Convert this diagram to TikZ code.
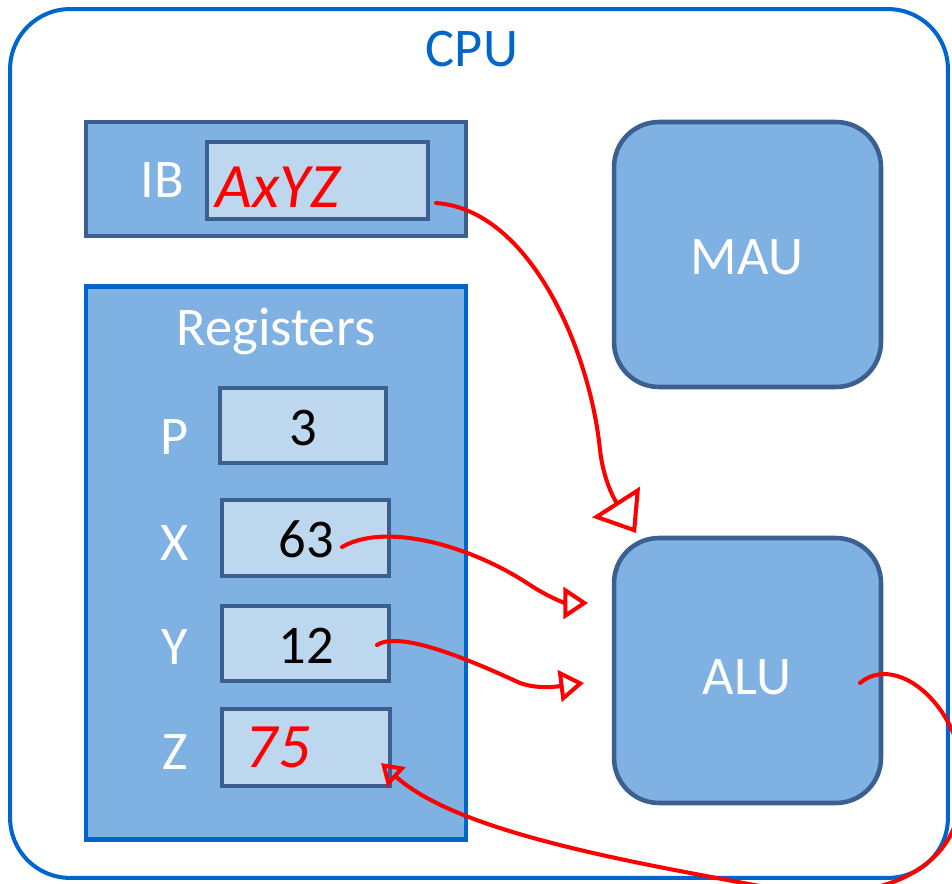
\documentclass[tikz,border=0pt]{standalone}
\usepackage{fontspec}
\setmainfont{Carlito}
\usetikzlibrary{arrows.meta}
\definecolor{cpublue}{HTML}{0066CC}
\definecolor{boxfill}{HTML}{7FB1E3}
\definecolor{lightfill}{HTML}{BDD7EE}
\definecolor{boxedge}{HTML}{3B5F8E}
\definecolor{pen}{HTML}{FF0000}
\begin{document}
\begin{tikzpicture}[x=0.02cm,y=-0.02cm,
  every node/.style={inner sep=0pt, outer sep=0pt},
  cpubox/.style={draw=cpublue, line width=2.3pt, rounded corners=1.2cm, fill=white, rectangle},
  bigbox/.style={draw=boxedge, fill=boxfill, line width=2.6pt, rectangle},
  regbox/.style={draw=cpublue, fill=boxfill, line width=2.8pt, rectangle},
  cellbox/.style={draw=boxedge, fill=lightfill, line width=2.6pt, rectangle},
  unitbox/.style={draw=boxedge, fill=boxfill, line width=2.6pt, rounded corners=0.9cm, rectangle},
  wlabel/.style={anchor=base, text=white, font=\fontsize{31}{37}\selectfont},
  blabel/.style={anchor=base, text=cpublue, font=\fontsize{31}{37}\selectfont},
  val/.style={anchor=base, text=black, font=\fontsize{31}{37}\selectfont},
  hand/.style={anchor=base, text=pen, font=\itshape\fontsize{36}{42}\selectfont},
  ink/.style={draw=pen, line width=2.3pt, line cap=round, line join=round},
  bighead/.style={-{Triangle[open, length=21pt, width=32pt, line width=2.3pt]}},
  midhead/.style={-{Triangle[open, length=14pt, width=18pt, line width=2.3pt]}},
  smallhead/.style={-{Triangle[open, length=12pt, width=15pt, line width=2.3pt]}}
]
\useasboundingbox (0,0) rectangle (952,884);
\clip (0,0) rectangle (952,884);

% CPU frame
\node[cpubox, minimum width=18.76cm, minimum height=17.38cm] (cpu) at (479,443.5) {};
\node[blabel] (cpulabel) at (472,67) {CPU};

% IB
\node[bigbox, minimum width=7.6cm, minimum height=2.28cm] (ib) at (276,179) {};
\node[cellbox, minimum width=4.42cm, minimum height=1.54cm] (ibcell) at (317.5,180.5) {};
\node[wlabel] (iblabel) at (162,198) {IB};
\node[hand] (ibtext) at (278,208) {AxYZ};

% Registers
\node[regbox, minimum width=7.6cm, minimum height=11.08cm] (regs) at (276,563) {};
\node[wlabel] (regslabel) at (276,346) {Registers};

\node[cellbox, minimum width=3.32cm, minimum height=1.5cm] (pcell) at (303,425.5) {};
\node[cellbox, minimum width=3.34cm, minimum height=1.52cm] (xcell) at (305.5,538) {};
\node[cellbox, minimum width=3.34cm, minimum height=1.5cm] (ycell) at (305.5,643.5) {};
\node[cellbox, minimum width=3.36cm, minimum height=1.54cm] (zcell) at (306,747.5) {};

\node[wlabel] (plabel) at (175,455) {P};
\node[wlabel] (xlabel) at (175,560) {X};
\node[wlabel] (ylabel) at (175,664) {Y};
\node[wlabel] (zlabel) at (175,769) {Z};

\node[val] (pval) at (303,445) {3};
\node[val] (xval) at (306,557) {63};
\node[val] (yval) at (306,663) {12};
\node[hand] (zval) at (278,767) {75};

% Units
\node[unitbox, minimum width=5.34cm, minimum height=5.3cm] (mau) at (747.5,254.5) {};
\node[wlabel] (maulabel) at (747,275) {MAU};
\node[unitbox, minimum width=5.34cm, minimum height=5.3cm] (alu) at (747.5,670.5) {};
\node[wlabel] (alulabel) at (747,694) {ALU};

% connector end points
\coordinate (ibout) at (436,203);
\coordinate (aluin1) at (636,533);
\coordinate (xout) at (342,547);
\coordinate (aluin2) at (588,603);
\coordinate (yout) at (377,645);
\coordinate (aluin3) at (584,683);
\coordinate (aluout) at (860,683);
\coordinate (zin) at (381,763);

\draw[ink, bighead] (ibout) .. controls (530,210) and (590,350) .. (600,450)
  .. controls (604,485) and (618,505) .. (aluin1);
\draw[ink, midhead] (xout) .. controls (385,522) and (470,545) .. (530,585)
  .. controls (550,598) and (565,603) .. (aluin2);
\draw[ink, midhead] (yout) .. controls (400,630) and (470,660) .. (520,683)
  .. controls (540,690) and (560,686) .. (aluin3);
\draw[ink, smallhead] (aluout) .. controls (905,645) and (990,735) .. (955,825)
  .. controls (935,880) and (860,905) .. (770,888)
  .. controls (650,865) and (460,835) .. (zin);
\end{tikzpicture}
\end{document}
